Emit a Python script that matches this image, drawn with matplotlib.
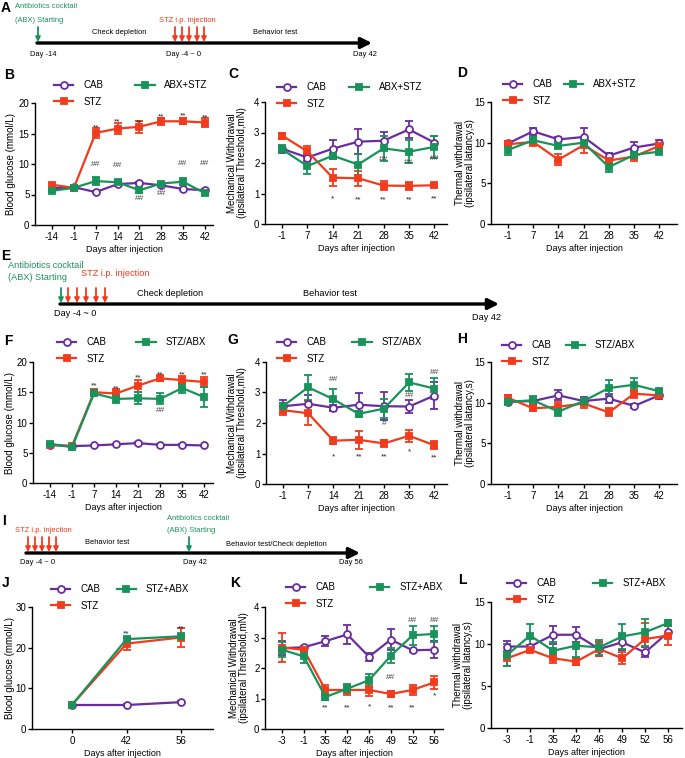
import matplotlib
matplotlib.use('Agg')
import matplotlib.pyplot as plt
from matplotlib import font_manager
from matplotlib.lines import Line2D
import numpy as np

plt.rcParams['font.family'] = ['Liberation Sans', 'DejaVu Sans']
plt.rcParams['font.size'] = 7

# narrow face for the timeline and x labels (squeezed text in the original)
_names = {f.name for f in font_manager.fontManager.ttflist}
if 'Liberation Sans Narrow' in _names:
    NARROW = ['Liberation Sans Narrow', 'DejaVu Sans']
    NSCALE = 1.0
else:
    NARROW = ['Liberation Sans', 'DejaVu Sans']
    NSCALE = 0.87

PURPLE = '#6a2d9f'
RED = '#f23a1d'
GREEN = '#18935a'

# ---------------- data ----------------
# B: blood glucose, ABX then STZ
b_days = ['-14', '-1', '7', '14', '21', '28', '35', '42']
b_cab = [6.0, 6.2, 5.4, 6.7, 6.9, 6.5, 5.9, 5.7]
b_cab_err = [0.2, 0.2, 0.2, 0.3, 0.2, 0.2, 0.2, 0.2]
b_stz = [6.6, 6.1, 15.1, 15.8, 16.1, 17.0, 17.0, 16.8]
b_stz_err = [0.3, 0.2, 0.8, 0.9, 1.0, 0.6, 0.5, 0.7]
b_abx = [5.6, 6.1, 7.2, 7.0, 5.7, 6.8, 7.1, 5.2]
b_abx_err = [0.2, 0.2, 0.6, 0.4, 0.5, 0.3, 0.6, 0.3]
b_notes = [(2, 15.9, '**'), (3, 16.9, '**'), (4, 16.8, '**'), (5, 17.7, '**'), (6, 17.9, '**'), (7, 17.6, '**'),
           (2, 10.0, '##'), (3, 9.8, '##'), (4, 4.4, '##'), (5, 5.2, '##'), (6, 10.1, '##'), (7, 10.1, '##')]

# C: mechanical withdrawal
c_days = ['-1', '7', '14', '21', '28', '35', '42']
c_cab = [2.47, 2.18, 2.47, 2.70, 2.73, 3.10, 2.67]
c_cab_err = [0.10, 0.10, 0.30, 0.42, 0.30, 0.27, 0.20]
c_stz = [2.90, 2.38, 1.52, 1.50, 1.26, 1.25, 1.27]
c_stz_err = [0.10, 0.18, 0.28, 0.25, 0.15, 0.12, 0.05]
c_abx = [2.45, 1.90, 2.24, 1.95, 2.48, 2.37, 2.53]
c_abx_err = [0.13, 0.27, 0.10, 0.35, 0.40, 0.37, 0.35]
c_notes = [(2, 0.82, '*'), (3, 0.8, '**'), (4, 0.78, '**'), (5, 0.8, '**'), (6, 0.82, '**'),
           (4, 2.11, '##'), (5, 2.0, '##'), (6, 2.16, '##')]

# D: thermal withdrawal
d_days = c_days
d_cab = [9.9, 11.4, 10.4, 10.7, 8.4, 9.4, 9.9]
d_cab_err = [0.3, 0.4, 0.3, 1.1, 0.3, 0.7, 0.4]
d_stz = [9.8, 10.1, 7.9, 9.7, 7.8, 8.3, 9.6]
d_stz_err = [0.3, 0.5, 0.7, 1.0, 0.4, 0.5, 0.7]
d_abx = [9.1, 10.3, 9.6, 10.0, 7.0, 8.5, 8.9]
d_abx_err = [0.6, 0.4, 0.3, 0.4, 0.6, 0.5, 0.3]

# F: blood glucose, STZ/ABX together
f_days = b_days
f_cab = [6.3, 6.1, 6.2, 6.4, 6.6, 6.3, 6.3, 6.2]
f_cab_err = [0.1, 0.1, 0.1, 0.1, 0.2, 0.1, 0.1, 0.1]
f_stz = [6.3, 6.1, 15.0, 14.8, 16.1, 17.3, 17.0, 16.7]
f_stz_err = [0.1, 0.3, 0.5, 0.7, 1.0, 0.4, 0.7, 0.8]
f_abx = [6.5, 5.9, 14.8, 13.9, 14.0, 13.9, 15.7, 14.2]
f_abx_err = [0.2, 0.2, 0.5, 0.7, 1.0, 0.9, 0.8, 1.6]
f_notes = [(2, 16.0, '**'), (3, 15.5, '**'), (4, 17.3, '**'), (5, 17.9, '**'), (6, 17.8, '**'), (7, 17.8, '**'),
           (5, 12.0, '##')]

# G: mechanical withdrawal
g_days = c_days
g_cab = [2.55, 2.63, 2.50, 2.60, 2.55, 2.54, 2.90]
g_cab_err = [0.22, 0.30, 0.10, 0.38, 0.45, 0.20, 0.45]
g_stz = [2.42, 2.32, 1.42, 1.45, 1.33, 1.58, 1.27]
g_stz_err = [0.15, 0.40, 0.12, 0.30, 0.12, 0.20, 0.13]
g_abx = [2.55, 3.17, 2.78, 2.30, 2.47, 3.33, 3.13]
g_abx_err = [0.10, 0.40, 0.35, 0.10, 0.32, 0.27, 0.33]
g_notes = [(2, 0.9, '*'), (3, 0.9, '**'), (4, 0.9, '**'), (5, 1.05, '*'), (6, 0.87, '**'),
           (2, 3.41, '##'), (4, 1.98, '#'), (5, 2.9, '##'), (6, 3.67, '##')]

# H: thermal withdrawal
h_days = c_days
h_cab = [10.1, 10.2, 10.9, 10.2, 10.5, 9.6, 10.9]
h_cab_err = [0.3, 0.3, 0.6, 0.5, 0.6, 0.2, 0.4]
h_stz = [10.6, 9.3, 9.5, 9.9, 8.8, 11.1, 10.9]
h_stz_err = [0.4, 0.3, 0.6, 0.5, 0.5, 0.5, 0.5]
h_abx = [10.1, 10.3, 8.9, 10.2, 11.8, 12.2, 11.4]
h_abx_err = [0.3, 0.5, 0.6, 0.4, 1.0, 0.8, 0.3]

# J: blood glucose, STZ then ABX
j_days = ['0', '42', '56']
j_cab = [5.9, 5.9, 6.6]
j_cab_err = [0.2, 0.2, 0.2]
j_stz = [6.0, 21.0, 22.5]
j_stz_err = [0.2, 1.5, 2.3]
j_abx = [6.0, 22.1, 22.8]
j_abx_err = [0.2, 0.6, 0.5]
j_notes = [(1, 23.4, '**'), (2, 24.6, '**')]

# K: mechanical withdrawal
k_days = ['-3', '-1', '35', '42', '46', '49', '52', '56']
k_cab = [2.65, 2.68, 2.88, 3.10, 2.37, 2.93, 2.58, 2.60]
k_cab_err = [0.22, 0.05, 0.17, 0.30, 0.13, 0.35, 0.05, 0.27]
k_stz = [2.67, 2.60, 1.28, 1.28, 1.28, 1.15, 1.28, 1.53]
k_stz_err = [0.48, 0.05, 0.15, 0.15, 0.20, 0.10, 0.17, 0.22]
k_abx = [2.60, 2.38, 1.05, 1.32, 1.60, 2.40, 3.07, 3.12]
k_abx_err = [0.25, 0.20, 0.10, 0.15, 0.20, 0.25, 0.30, 0.27]
k_notes = [(2, 0.68, '**'), (3, 0.7, '**'), (4, 0.74, '*'), (5, 0.7, '**'), (6, 0.7, '**'), (7, 1.07, '*'),
           (5, 1.68, '##'), (6, 3.56, '##'), (7, 3.56, '##')]

# L: thermal withdrawal
l_days = k_days
l_cab = [9.7, 9.7, 11.1, 11.1, 9.4, 10.2, 9.0, 11.4]
l_cab_err = [0.7, 0.2, 1.1, 0.9, 0.8, 0.9, 0.6, 0.7]
l_stz = [8.3, 9.3, 8.3, 7.9, 9.4, 8.3, 10.6, 11.0]
l_stz_err = [0.9, 0.3, 0.6, 0.4, 0.8, 0.7, 1.9, 1.1]
l_abx = [8.7, 11.0, 9.2, 9.8, 9.6, 10.9, 11.4, 12.5]
l_abx_err = [1.3, 1.4, 1.0, 1.4, 0.9, 1.5, 1.6, 0.4]

GLU = 'Blood glucose (mmol/L)'
MECH = 'Mechanical Withdrawal\n(ipsilateral Threshold,mN)'
THERM = 'Thermal withdrawal\n(ipsilateral latancy,s)'

W, H = 685, 758
fig = plt.figure(figsize=(W / 100, H / 100), dpi=100)


def px_axes(l, t, r, b):
    return fig.add_axes([l / W, 1 - b / H, (r - l) / W, (b - t) / H])


def panel(rect, xlim, days, cab, stz, abx, abx_name, ylim, yticks, ylabel, ylab_x,
          leg_xy, colsp, notes=()):
    ax = px_axes(*rect)
    x = np.arange(len(days))
    groups = [('CAB', cab, 'o', PURPLE, 'white'),
              ('STZ', stz, 's', RED, RED),
              (abx_name, abx, 's', GREEN, GREEN)]
    handles = []
    for name, (m, e), mk, c, fc in groups:
        ax.errorbar(x, m, yerr=e, color=c, marker=mk, ms=5 if mk == 'o' else 4.5,
                    mfc=fc, mec=c, mew=1.3, lw=1.6, elinewidth=1.3, capsize=2.6,
                    capthick=1.3, clip_on=False, zorder=3)
        handles.append(Line2D([], [], color=c, marker=mk, ms=5 if mk == 'o' else 4.5,
                              mfc=fc, mec=c, mew=1.3, lw=1.6, label=name))
    for i, y, t in notes:
        ax.text(i, y, t, ha='center', va='center', fontsize=6,
                color='#222222' if '*' in t else '#444444', zorder=4)
    ax.set_xlim(*xlim)
    ax.set_ylim(*ylim)
    ax.set_xticks(x)
    ax.set_xticklabels(days)
    ax.set_yticks(yticks)
    ax.set_xlabel('Days after injection', labelpad=2, family=NARROW, fontsize=7.4 * NSCALE)
    ax.set_ylabel(ylabel, linespacing=1.1, fontsize=7)
    ax.yaxis.label.set_va('center')
    l, t, r, b = rect
    ax.yaxis.set_label_coords((ylab_x - l) / (r - l), 0.5)
    for s in ('top', 'right'):
        ax.spines[s].set_visible(False)
    for s in ('left', 'bottom'):
        ax.spines[s].set_linewidth(1.0)
    ax.tick_params(length=3, width=1.0, pad=2, labelsize=7)
    ax.tick_params(axis='y', pad=1)
    ax.patch.set_alpha(0)
    # legend: CAB / abx on first row, STZ below
    fig.legend(handles=[handles[0], handles[1], handles[2]], ncol=2, loc='upper left',
               bbox_to_anchor=(leg_xy[0] / W, 1 - leg_xy[1] / H), frameon=False,
               fontsize=7, handlelength=2.0, handletextpad=1.0, columnspacing=colsp,
               labelspacing=0.7, borderpad=0, borderaxespad=0)
    return ax


panel((35, 103, 213, 225), (-0.78, 7.37), b_days, (b_cab, b_cab_err), (b_stz, b_stz_err),
      (b_abx, b_abx_err), 'ABX+STZ', (0, 20), [0, 5, 10, 15, 20], GLU, 11, (54, 80), 3.3, b_notes)
panel((265, 102, 447, 224), (-0.67, 6.5), c_days, (c_cab, c_cab_err), (c_stz, c_stz_err),
      (c_abx, c_abx_err), 'ABX+STZ', (0, 4), [0, 1, 2, 3, 4], MECH, 237, (277, 82), 2.4, c_notes)
panel((491, 102, 677, 224), (-0.67, 6.7), d_days, (d_cab, d_cab_err), (d_stz, d_stz_err),
      (d_abx, d_abx_err), 'ABX+STZ', (0, 15), [0, 5, 10, 15], THERM, 465, (503, 79), 1.2)

panel((33, 362, 213, 483), (-0.77, 7.4), f_days, (f_cab, f_cab_err), (f_stz, f_stz_err),
      (f_abx, f_abx_err), 'STZ/ABX', (0, 20), [0, 5, 10, 15, 20], GLU, 10, (57, 337), 3.1, f_notes)
panel((266, 362, 447, 484), (-0.67, 6.5), g_days, (g_cab, g_cab_err), (g_stz, g_stz_err),
      (g_abx, g_abx_err), 'STZ/ABX', (0, 4), [0, 1, 2, 3, 4], MECH, 237, (277, 337), 2.7, g_notes)
panel((491, 362, 677, 484), (-0.67, 6.7), h_days, (h_cab, h_cab_err), (h_stz, h_stz_err),
      (h_abx, h_abx_err), 'STZ/ABX', (0, 15), [0, 5, 10, 15], THERM, 465, (502, 340), 1.5)

panel((32, 607, 213, 729), (-0.74, 2.59), j_days, (j_cab, j_cab_err), (j_stz, j_stz_err),
      (j_abx, j_abx_err), 'STZ+ABX', (0, 30), [0, 10, 20, 30], GLU, 10, (51, 584), 1.7, j_notes)
panel((265, 607, 443, 729), (-0.78, 7.4), k_days, (k_cab, k_cab_err), (k_stz, k_stz_err),
      (k_abx, k_abx_err), 'STZ+ABX', (0, 4), [0, 1, 2, 3, 4], MECH, 239, (286, 582), 3.6, k_notes)
panel((491, 602, 682, 728), (-0.7, 7.6), l_days, (l_cab, l_cab_err), (l_stz, l_stz_err),
      (l_abx, l_abx_err), 'STZ+ABX', (0, 15), [0, 5, 10, 15], THERM, 463, (507, 578), 3.8)

# ---------------- overlay: timelines and panel letters ----------------
ov = fig.add_axes([0, 0, 1, 1])
ov.set_xlim(0, W)
ov.set_ylim(H, 0)
ov.axis('off')
ov.patch.set_alpha(0)


def timeline(x0, x1, y):
    ov.annotate('', xy=(x1, y), xytext=(x0 - 1, y),
                arrowprops=dict(arrowstyle='-|>', lw=2.4, color='black',
                                mutation_scale=16, shrinkA=0, shrinkB=0))


def drop(xs, y_top, y_line, color):
    for xx in xs:
        ov.annotate('', xy=(xx, y_line - 1), xytext=(xx, y_top),
                    arrowprops=dict(arrowstyle='-|>', lw=1.3, color=color,
                                    mutation_scale=7, shrinkA=0, shrinkB=0))


def txt(x, y, s, color='black', ha='center', size=6.2):
    ov.text(x, y, s, color=color, ha=ha, va='center', fontsize=size * NSCALE, family=NARROW)


# A
timeline(38, 372, 43)
drop([38], 27, 43, GREEN)
drop([175, 182, 189, 197, 204], 27, 43, RED)
txt(15, 7, 'Antibiotics cocktail', GREEN, ha='left')
txt(15, 20, '(ABX) Starting', GREEN, ha='left')
txt(187, 20, 'STZ i.p. injection', RED)
txt(119, 32, 'Check depletion')
txt(275, 32, 'Behavior test')
txt(43, 54, 'Day -14')
txt(184, 54, 'Day -4 ~ 0')
txt(365, 54, 'Day 42')

# E
timeline(61, 499, 304)
drop([61], 288, 304, GREEN)
drop([68, 77, 86, 96, 105], 288, 304, RED)
txt(8, 266, 'Antibiotics cocktail', GREEN, ha='left', size=7.6)
txt(8, 278, '(ABX) Starting', GREEN, ha='left', size=7.6)
txt(81, 273, 'STZ i.p. injection', RED, ha='left', size=7.6)
txt(170, 294, 'Check depletion', size=7.6)
txt(330, 294, 'Behavior test', size=7.6)
txt(75, 314, 'Day -4 ~ 0', size=7.6)
txt(487, 317, 'Day 42', size=7.6)

# I
timeline(27, 360, 553)
drop([28, 35, 42, 49, 56], 537, 553, RED)
drop([189], 537, 553, GREEN)
txt(15, 531, 'STZ i.p. injection', RED, ha='left')
txt(107, 543, 'Behavior test')
txt(167, 518, 'Antibiotics cocktail', GREEN, ha='left')
txt(167, 530, '(ABX) Starting', GREEN, ha='left')
txt(276, 544, 'Behavior test/Check depletion')
txt(38, 563, 'Day -4 ~ 0')
txt(195, 563, 'Day 42')
txt(351, 563, 'Day 56')

letters = [('A', 6, 8), ('B', 9, 75), ('C', 233, 74), ('D', 462, 73), ('E', 6, 256),
           ('F', 8, 341), ('G', 233, 340), ('H', 462, 339), ('I', 4, 521),
           ('J', 6, 583), ('K', 235, 583), ('L', 462, 580)]
for s, lx, ly in letters:
    ov.text(lx, ly, s, fontsize=10, fontweight='bold', ha='center', va='center')

fig.savefig('out.png', dpi=100)
